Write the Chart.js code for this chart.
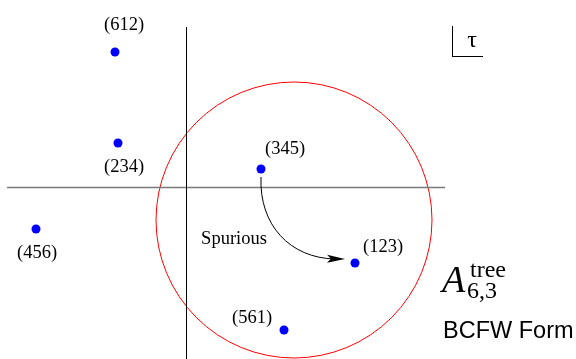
<!DOCTYPE html>
<html><head><meta charset="utf-8">
<script src="https://cdn.jsdelivr.net/npm/chart.js@4"></script>
<style>html,body{margin:0;padding:0;background:#fff}#wrap{width:576px;height:359px}</style>
</head><body><div id="wrap"><canvas id="c" width="576" height="359"></canvas></div>
<script>
// Diagram values (x across, y down, in picture units)
const pointLabels = ['(612)', '(234)', '(345)', '(456)', '(123)', '(561)'];
const pointX = [115, 118, 261, 36, 355, 284];
const pointY = [52, 143, 169, 229, 263, 330];
const labelX = [124, 124, 285, 37, 383, 252];
const labelY = [25, 167, 149, 253, 247, 318];
const hAxisX = [7, 445];
const hAxisY = [187.5, 187.5];
const vAxisX = [186.5, 186.5];
const vAxisY = [27, 359];
const tauBoxX = [452.5, 452.5, 483];
const tauBoxY = [26, 56.5, 56.5];
const circleCenter = [294, 220];
const circleRadius = 138;
const arrowPath = [[261, 177], [259, 225], [290, 258], [345, 259]];
const spuriousText = 'Spurious';
const spuriousPos = [234, 239];

const pts = pointX.map((x, i) => ({x, y: pointY[i]}));
const toPts = (xs, ys) => xs.map((x, i) => ({x, y: ys[i]}));

const overlay = {
  id: 'overlay',
  beforeDatasetsDraw(chart) {
    const {ctx, scales: {x, y}} = chart;
    const cx = x.getPixelForValue(circleCenter[0]);
    const cy = y.getPixelForValue(circleCenter[1]);
    const r = x.getPixelForValue(circleCenter[0] + circleRadius) - cx;
    ctx.save();
    ctx.strokeStyle = '#ff0000';
    ctx.lineWidth = 1;
    ctx.beginPath();
    ctx.arc(cx, cy, r, 0, Math.PI * 2);
    ctx.stroke();
    ctx.restore();
  },
  afterDatasetsDraw(chart) {
    const {ctx, scales: {x, y}} = chart;
    const P = p => [x.getPixelForValue(p[0]), y.getPixelForValue(p[1])];
    ctx.save();
    // arrow
    const a = arrowPath.map(P);
    ctx.strokeStyle = '#000';
    ctx.lineWidth = 1;
    ctx.beginPath();
    ctx.moveTo(a[0][0], a[0][1]);
    ctx.bezierCurveTo(a[1][0], a[1][1], a[2][0], a[2][1], a[3][0] - 10, a[3][1]);
    ctx.stroke();
    const tip = a[3];
    const ang = Math.atan2(a[3][1] - a[2][1], a[3][0] - a[2][0]);
    ctx.translate(tip[0], tip[1]);
    ctx.rotate(ang);
    ctx.fillStyle = '#000';
    ctx.beginPath();
    ctx.moveTo(0, 0);
    ctx.lineTo(-18, -4);
    ctx.lineTo(-14, 0);
    ctx.lineTo(-18, 4);
    ctx.closePath();
    ctx.fill();
    ctx.setTransform(1, 0, 0, 1, 0, 0);
    // labels
    ctx.fillStyle = '#000';
    ctx.font = '18.5px "Liberation Serif", serif';
    ctx.textAlign = 'center';
    ctx.textBaseline = 'middle';
    pointLabels.forEach((t, i) => {
      const [px, py] = P([labelX[i], labelY[i]]);
      ctx.fillText(t, px, py);
    });
    const [sx, sy] = P(spuriousPos);
    ctx.fillText(spuriousText, sx, sy);
    // tau
    ctx.textAlign = 'center';
    ctx.textBaseline = 'alphabetic';
    ctx.font = '24px "Liberation Serif", serif';
    ctx.fillText('τ', 472, 47);
    // A tree 6,3
    ctx.textAlign = 'left';
    ctx.font = 'italic 38px "Liberation Serif", serif';
    ctx.fillText('A', 442, 292);
    ctx.font = '24px "Liberation Serif", serif';
    ctx.fillText('tree', 470, 277);
    ctx.fillText('6,3', 467, 298);
    ctx.font = '23.5px "Liberation Sans", Arial, sans-serif';
    ctx.fillText('BCFW Form', 443, 338);
    ctx.restore();
  }
};

new Chart(document.getElementById('c'), {
  type: 'scatter',
  data: {
    datasets: [
      {data: pts, pointRadius: 4.5, pointBackgroundColor: '#0000ff', pointBorderWidth: 0, order: 0},
      {data: toPts(hAxisX, hAxisY), showLine: true, borderColor: '#7a7a7a', borderWidth: 1.6, pointRadius: 0, order: 2},
      {data: toPts(vAxisX, vAxisY), showLine: true, borderColor: '#000', borderWidth: 1, pointRadius: 0, order: 1},
      {data: toPts(tauBoxX, tauBoxY), showLine: true, borderColor: '#000', borderWidth: 1, pointRadius: 0, order: 1}
    ]
  },
  options: {
    responsive: false,
    animation: false,
    devicePixelRatio: 1,
    layout: {padding: 0, autoPadding: false},
    plugins: {legend: {display: false}, tooltip: {enabled: false}},
    events: [],
    scales: {
      x: {type: 'linear', min: 0, max: 576, display: false},
      y: {type: 'linear', min: 0, max: 359, reverse: true, display: false}
    }
  },
  plugins: [overlay]
});
</script></body></html>
